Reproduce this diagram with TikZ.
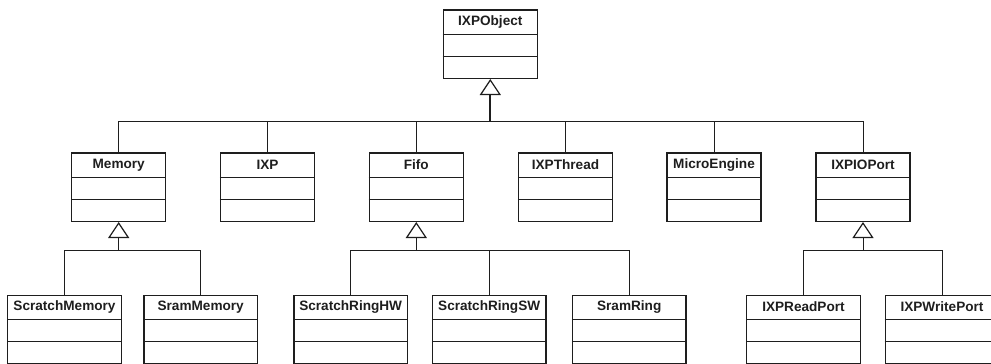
\documentclass[tikz,border=0pt]{standalone}
\usepackage{fontspec}
\setmainfont{Liberation Sans}
\usetikzlibrary{arrows.meta}
\definecolor{linec}{HTML}{1E1E1E}
\tikzset{
  cls/.style={draw=linec, line width=1.2pt, minimum height=68.5pt, inner sep=0pt, anchor=north},
  clstitle/.style={font=\bfseries\fontsize{13.6}{15}\selectfont, text=linec, inner sep=0pt},
  cline/.style={draw=linec, line width=1.2pt},
  conn/.style={draw=linec, line width=1pt},
  gen/.style={draw=linec, line width=1pt, -{Triangle[open, length=16pt, width=21pt, line width=1.2pt, fill=white]}},
}
\newcommand\umlclass[5]{%
  \node[cls, minimum width=#4] (#1) at (#2,#3) {};
  \node[clstitle] (#1t) at ([yshift=-12.5pt]#1.north) {#5};
  \draw[cline] ([yshift=-25pt]#1.north west) -- ([yshift=-25pt]#1.north east);
  \draw[cline] ([yshift=-47.2pt]#1.north west) -- ([yshift=-47.2pt]#1.north east);
}
\begin{document}
\begin{tikzpicture}[x=1pt, y=-1pt]
\useasboundingbox (0,0) rectangle (991,364);
% classes
\umlclass{obj}{490.3}{9.3}{94pt}{IXPObject}
\umlclass{mem}{118.7}{152.3}{94pt}{Memory}
\umlclass{ixp}{267.5}{152.3}{94pt}{IXP}
\umlclass{fifo}{416.3}{152.3}{94pt}{Fifo}
\umlclass{thr}{565.5}{152.3}{94pt}{IXPThread}
\umlclass{me}{714}{152.3}{94pt}{MicroEngine}
\umlclass{io}{863}{152.3}{94pt}{IXPIOPort}
\umlclass{smem}{64.5}{294.5}{113.4pt}{ScratchMemory}
\umlclass{sram}{200.7}{294.5}{113.4pt}{SramMemory}
\umlclass{rhw}{350.7}{294.5}{113.4pt}{ScratchRingHW}
\umlclass{rsw}{489.2}{294.5}{113.4pt}{ScratchRingSW}
\umlclass{sring}{629.2}{294.5}{113.4pt}{SramRing}
\umlclass{rp}{803.5}{294.5}{113.4pt}{IXPReadPort}
\umlclass{wp}{942}{294.5}{113.4pt}{IXPWritePort}
% junctions
\coordinate (j0) at (490.3,121.5);
\coordinate (jm) at (118.7,250);
\coordinate (jf) at (416.3,250);
\coordinate (jio) at (863,250);
% top level generalization
\foreach \n in {mem,ixp,fifo,thr,me,io} \draw[conn] (j0) -| (\n.north);
\draw[linec, line width=2pt] (j0) -- ([yshift=-15pt]obj.south);
\draw[gen] (j0) -- (obj.south);
% memory
\foreach \n in {smem,sram} \draw[conn] (jm) -| (\n.north);
\draw[gen] (jm) -- (mem.south);
% fifo
\foreach \n in {rhw,rsw,sring} \draw[conn] (jf) -| (\n.north);
\draw[gen] (jf) -- (fifo.south);
% io ports
\foreach \n in {rp,wp} \draw[conn] (jio) -| (\n.north);
\draw[gen] (jio) -- (io.south);
\end{tikzpicture}
\end{document}
